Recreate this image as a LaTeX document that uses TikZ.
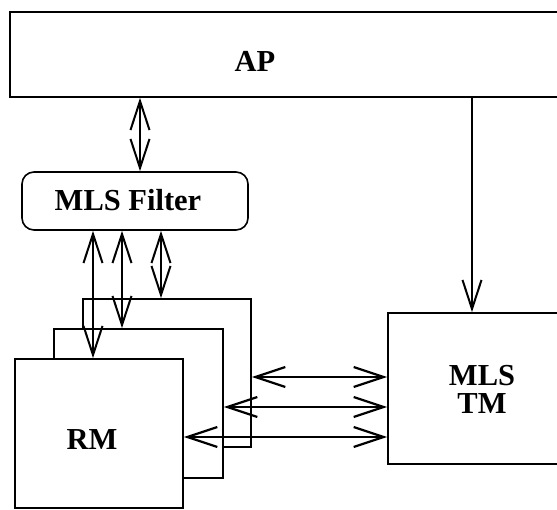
\documentclass[tikz,border=0pt]{standalone}
\usepackage{fontspec}
\setmainfont{Liberation Serif}
\usetikzlibrary{arrows.meta}
\begin{document}
\begin{tikzpicture}[x=1pt,y=-1pt,
  box/.style={draw,line width=1.6pt,fill=white,inner sep=0pt},
  lbl/.style={font=\bfseries\fontsize{30.5}{28}\selectfont,align=center,inner sep=0pt},
  conn/.style={line width=1.6pt,{Straight Barb[length=29pt,width=19pt,line width=2pt]}-{Straight Barb[length=29pt,width=19pt,line width=2pt]}},
  hconn/.style={line width=2.2pt,{Straight Barb[length=30pt,width=20pt,line width=2.2pt]}-{Straight Barb[length=30pt,width=20pt,line width=2.2pt]}},
  oneway/.style={line width=1.6pt,-{Straight Barb[length=29pt,width=19pt,line width=2pt]}}]
\useasboundingbox (0,0) rectangle (557,510);
\clip (0,0) rectangle (557,510);
% boxes
\node[box,minimum width=610pt,minimum height=85pt] (ap) at (315,54.5) {};
\node[lbl] (aptext) at (255,61) {AP};
\node[box,rounded corners=12pt,minimum width=226pt,minimum height=58pt] (filter) at (135,201) {};
\node[lbl] (filtertext) at (128,200) {MLS Filter};
\node[box,minimum width=168pt,minimum height=148pt] (back) at (167,373) {};
\node[box,minimum width=169pt,minimum height=149pt] (mid) at (138.5,403.5) {};
\node[box,minimum width=168pt,minimum height=149pt] (front) at (99,433.5) {};
\node[lbl] (rmtext) at (92,440) {RM};
\node[box,minimum width=232pt,minimum height=151pt] (tm) at (504,388.5) {};
\node[lbl] (tmtext) at (482,389) {MLS\\TM};
% helper coordinates
\coordinate (xa) at (140,0);
\coordinate (xb) at (93,0);
\coordinate (xc) at (122,0);
\coordinate (xd) at (161,0);
\coordinate (xe) at (472,0);
\coordinate (ya) at (0,377);
\coordinate (yb) at (0,407);
\coordinate (yc) at (0,437);
% connectors
\draw[conn] (ap.south -| xa) -- (filter.north -| xa);
\draw[conn] (filter.south -| xb) -- (front.north -| xb);
\draw[conn] (filter.south -| xc) -- (mid.north -| xc);
\draw[conn] (filter.south -| xd) -- (back.north -| xd);
\draw[oneway] (ap.south -| xe) -- (tm.north -| xe);
\draw[hconn] (back.east |- ya) -- (tm.west |- ya);
\draw[hconn] (mid.east |- yb) -- (tm.west |- yb);
\draw[hconn] (front.east |- yc) -- (tm.west |- yc);
\end{tikzpicture}
\end{document}
